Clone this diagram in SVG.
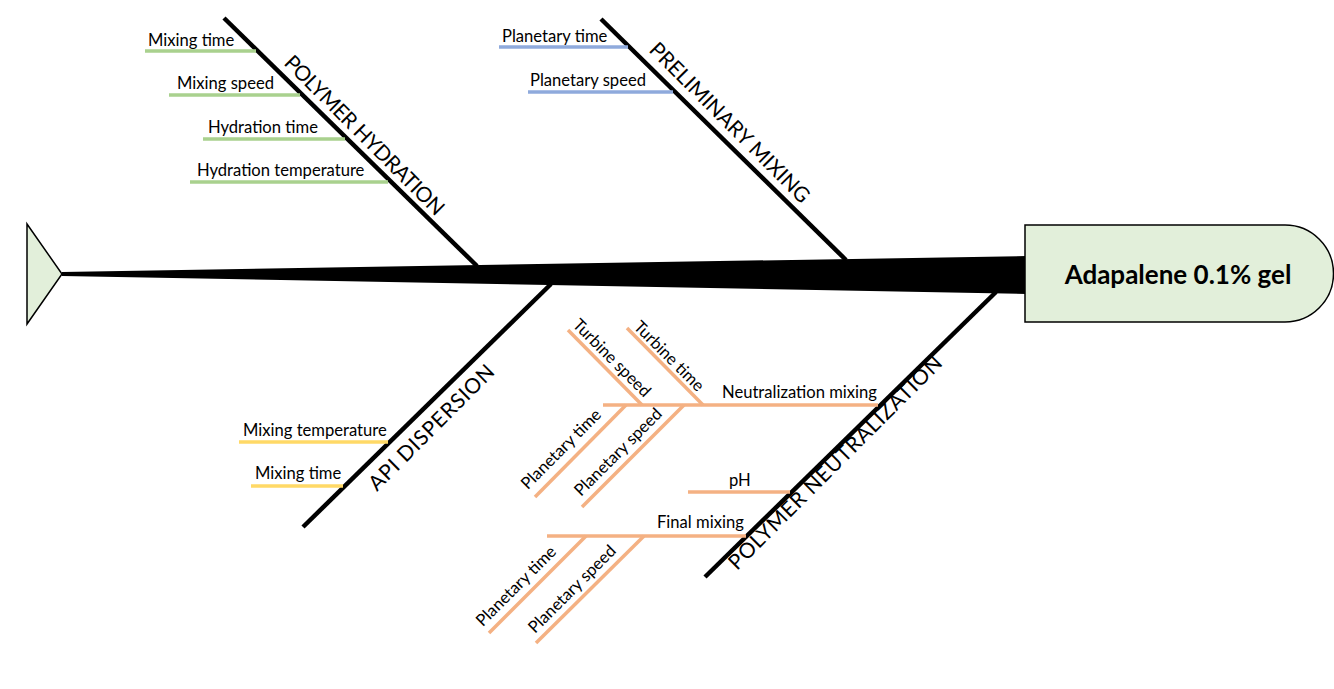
<svg xmlns="http://www.w3.org/2000/svg" width="1334" height="689" viewBox="0 0 1334 689">
<style>
.t{font-family:Lato,"Open Sans","Liberation Sans",sans-serif;font-size:16.6px;fill:#000}
.cap{font-family:Lato,"Open Sans","Liberation Sans",sans-serif;font-size:21px;fill:#000}
.bone{stroke:#000;stroke-width:4.5;fill:none;stroke-linecap:butt}
.g{stroke:#a9d18e;stroke-width:3.5;fill:none}
.b{stroke:#8faadc;stroke-width:3.5;fill:none}
.y{stroke:#ffd966;stroke-width:3.5;fill:none}
.o{stroke:#f4b183;stroke-width:3.5;fill:none}
</style>
<rect width="1334" height="689" fill="#fff"/>
<g id="connectors">
<polygon points="62,272 1026,256 1026,294 62,276" fill="#000"/>
<line class="bone" x1="224" y1="18" x2="477" y2="266"/>
<line class="bone" x1="601" y1="19" x2="846" y2="260"/>
<line class="bone" x1="551" y1="284" x2="303" y2="527"/>
<line class="bone" x1="996" y1="292" x2="705" y2="577"/>
<line class="g" x1="145" y1="51" x2="256" y2="51"/>
<line class="g" x1="169" y1="95" x2="300" y2="95"/>
<line class="g" x1="203" y1="139" x2="345" y2="139"/>
<line class="g" x1="190" y1="182" x2="388" y2="182"/>
<line class="b" x1="499" y1="47" x2="628" y2="47"/>
<line class="b" x1="528" y1="92" x2="673" y2="92"/>
<line class="y" x1="239" y1="442" x2="388" y2="442"/>
<line class="y" x1="251" y1="486" x2="343" y2="486"/>
<line class="o" x1="603" y1="405" x2="878" y2="405"/>
<line class="o" x1="568" y1="330" x2="642" y2="405"/>
<line class="o" x1="627" y1="328" x2="703" y2="405"/>
<line class="o" x1="626" y1="405" x2="535" y2="497"/>
<line class="o" x1="684" y1="405" x2="582" y2="507"/>
<line class="o" x1="688" y1="492" x2="790" y2="492"/>
<line class="o" x1="547" y1="536" x2="746" y2="536"/>
<line class="o" x1="586" y1="536" x2="489" y2="633"/>
<line class="o" x1="644" y1="536" x2="536" y2="643"/>
</g>
<g id="tail">
<polygon points="27,224 62,274 27,324" fill="#e2efda" stroke="#000" stroke-width="1.5" stroke-linejoin="miter"/>
</g>
<g id="head">
<path d="M1025,225 H1285 A48.5,48.5 0 0 1 1285,322 H1025 Z" fill="#e2efda" stroke="#000" stroke-width="1.5"/>
<text x="1178" y="284" text-anchor="middle" font-family="Lato,'Open Sans','Liberation Sans',sans-serif" font-size="26" font-weight="bold">Adapalene 0.1% gel</text>
</g>
<g id="polymer-hydration">
<text class="cap" transform="translate(283,64) rotate(45)" textLength="216">POLYMER HYDRATION</text>
<text class="t" x="148" y="46">Mixing time</text>
<text class="t" x="177" y="89">Mixing speed</text>
<text class="t" x="208" y="133">Hydration time</text>
<text class="t" x="197" y="176">Hydration temperature</text>
</g>
<g id="preliminary-mixing">
<text class="cap" transform="translate(648,51) rotate(45)" textLength="217">PRELIMINARY MIXING</text>
<text class="t" x="502" y="42">Planetary time</text>
<text class="t" x="530" y="86">Planetary speed</text>
</g>
<g id="api-dispersion">
<text class="cap" transform="translate(377,492) rotate(-45)" textLength="168">API DISPERSION</text>
<text class="t" x="243" y="436">Mixing temperature</text>
<text class="t" x="255" y="479">Mixing time</text>
</g>
<g id="polymer-neutralization">
<text class="cap" transform="translate(737,571) rotate(-45)" textLength="292">POLYMER NEUTRALIZATION</text>
<text class="t" x="722" y="398">Neutralization mixing</text>
<text class="t" transform="translate(608,362) rotate(45)" text-anchor="middle">Turbine speed</text>
<text class="t" transform="translate(665,360) rotate(45)" text-anchor="middle">Turbine time</text>
<text class="t" transform="translate(565,453) rotate(-45)" text-anchor="middle">Planetary time</text>
<text class="t" transform="translate(622,456) rotate(-45)" text-anchor="middle">Planetary speed</text>
<text class="t" x="729" y="486">pH</text>
<text class="t" x="657" y="528">Final mixing</text>
<text class="t" transform="translate(520,590) rotate(-45)" text-anchor="middle">Planetary time</text>
<text class="t" transform="translate(576,593) rotate(-45)" text-anchor="middle">Planetary speed</text>
</g>
</svg>
